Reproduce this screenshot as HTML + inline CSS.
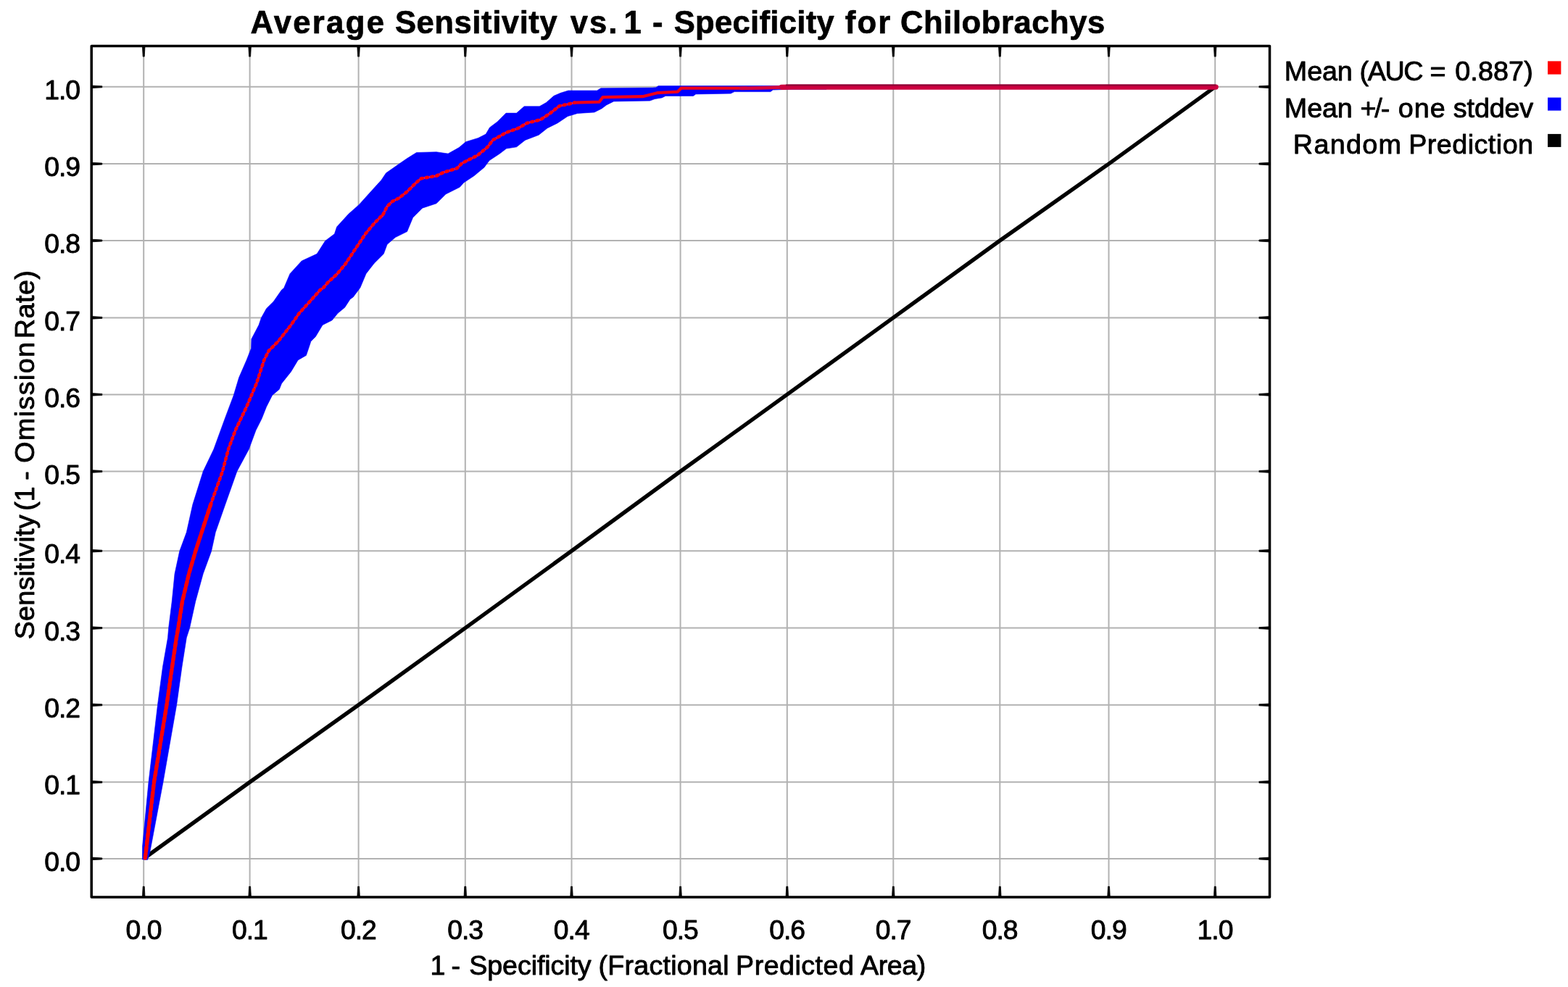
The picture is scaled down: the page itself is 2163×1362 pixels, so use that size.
<!DOCTYPE html>
<html lang="en"><head><meta charset="utf-8"><title>Average Sensitivity vs. 1 - Specificity for Chilobrachys</title>
<style>html,body{margin:0;padding:0;background:#fff;overflow:hidden}svg{display:block}text{font-family:"Liberation Sans",Arial,Helvetica,sans-serif;fill:#000;stroke:#000;stroke-linejoin:round;white-space:pre}</style>
</head><body>
<svg width="2163" height="1362" viewBox="0 0 2163 1362">
<rect x="0" y="0" width="2163" height="1362" fill="#fff"/>
<g>
<g stroke="#b2b2b2" stroke-width="2.0" fill="none">
<line x1="198.2" y1="63.5" x2="198.2" y2="1237.9"/>
<line x1="344.6" y1="63.5" x2="344.6" y2="1237.9"/>
<line x1="494.6" y1="63.5" x2="494.6" y2="1237.9"/>
<line x1="641.8" y1="63.5" x2="641.8" y2="1237.9"/>
<line x1="788.5" y1="63.5" x2="788.5" y2="1237.9"/>
<line x1="938.6" y1="63.5" x2="938.6" y2="1237.9"/>
<line x1="1085.8" y1="63.5" x2="1085.8" y2="1237.9"/>
<line x1="1232.3" y1="63.5" x2="1232.3" y2="1237.9"/>
<line x1="1379.3" y1="63.5" x2="1379.3" y2="1237.9"/>
<line x1="1529.5" y1="63.5" x2="1529.5" y2="1237.9"/>
<line x1="1676.2" y1="63.5" x2="1676.2" y2="1237.9"/>
<line x1="126.2" y1="1184.9" x2="1751.5" y2="1184.9"/>
<line x1="126.2" y1="1079.3" x2="1751.5" y2="1079.3"/>
<line x1="126.2" y1="972.8" x2="1751.5" y2="972.8"/>
<line x1="126.2" y1="866.6" x2="1751.5" y2="866.6"/>
<line x1="126.2" y1="760.2" x2="1751.5" y2="760.2"/>
<line x1="126.2" y1="650.5" x2="1751.5" y2="650.5"/>
<line x1="126.2" y1="544.4" x2="1751.5" y2="544.4"/>
<line x1="126.2" y1="438.4" x2="1751.5" y2="438.4"/>
<line x1="126.2" y1="332.0" x2="1751.5" y2="332.0"/>
<line x1="126.2" y1="226.1" x2="1751.5" y2="226.1"/>
<line x1="126.2" y1="119.8" x2="1751.5" y2="119.8"/>
</g>
<polyline points="201.2,1182.7 344.6,1079.3 494.6,972.8 641.8,866.6 788.5,760.2 938.6,650.5 1085.8,544.4 1232.3,438.4 1379.3,332.0 1529.5,226.1 1675.2,120.6" fill="none" stroke="#000" stroke-width="5.4" stroke-linecap="round" stroke-linejoin="round"/>
<polygon points="196.4,1186.0 196.5,1168.0 205.0,1079.3 217.5,972.4 224.5,920.0 231.5,880.0 232.6,866.8 237.2,829.9 241.0,791.8 247.7,760.6 257.3,734.5 265.8,696.3 280.2,650.5 294.8,620.0 310.2,577.7 322.3,545.4 329.6,521.1 340.1,496.9 346.5,480.8 346.9,467.8 357.0,448.5 360.3,438.8 367.5,425.8 377.2,416.2 388.5,400.0 391.6,397.5 400.0,377.7 416.2,360.0 437.2,350.3 448.5,332.5 461.4,322.8 464.6,313.1 480.8,295.3 495.3,282.4 509.9,266.2 526.0,248.5 532.5,238.8 548.6,227.5 561.6,218.6 574.5,210.5 602.0,209.7 618.1,212.1 633.2,203.6 642.5,195.7 659.6,190.4 670.2,185.1 675.5,175.9 686.1,168.0 698.0,156.1 712.5,156.1 723.1,146.8 744.2,146.8 753.5,141.5 764.0,132.3 773.3,128.3 783.9,125.0 823.5,125.0 828.8,121.7 900.0,121.1 904.8,120.7 908.2,118.6 1140.0,118.3 1140.0,123.2 1087.9,123.2 1066.3,124.1 1062.9,126.6 1013.0,126.6 1008.0,129.1 959.8,129.9 956.4,132.4 918.1,132.4 913.1,134.9 903.2,136.6 896.5,139.1 846.6,139.9 836.6,144.9 829.9,149.9 819.9,154.9 796.6,156.5 783.1,160.5 769.0,169.9 754.9,176.9 743.2,186.3 724.4,193.4 712.6,202.8 698.5,205.1 689.1,212.2 675.0,221.6 668.0,231.0 653.9,242.7 639.8,252.1 634.3,258.2 614.9,267.9 602.0,280.8 582.6,287.2 569.6,300.2 561.6,319.6 545.4,327.6 534.1,337.3 529.3,350.3 516.3,363.2 505.0,377.7 496.9,397.1 487.2,410.0 483.0,412.9 475.7,424.2 466.0,432.3 458.0,442.0 445.0,448.5 435.4,464.6 428.9,471.1 425.7,480.8 422.4,490.4 411.1,496.9 401.4,513.1 388.5,529.2 385.3,537.3 375.6,545.4 367.5,561.5 361.1,577.7 353.0,593.8 343.3,620.0 326.9,650.5 310.7,696.3 297.3,734.5 291.6,760.6 280.2,791.8 269.7,829.9 261.6,866.8 257.3,880.0 251.0,920.0 243.7,972.4 225.0,1079.3 206.6,1177.0 203.5,1186.5" fill="#0000ff" stroke="#0000ff" stroke-width="0.6" stroke-linejoin="round"/>
<polyline points="290.6,696.3 306.9,650.5 315.0,620.0 324.7,593.8 340.1,561.5 353.8,529.2 364.3,496.9 370.8,484.0 383.7,471.1 401.4,448.5 412.7,432.3 427.3,416.2 441.8,400.0 445.7,397.5 452.7,389.3 464.5,378.7 476.2,364.6 485.6,350.5 495.0,336.4 504.4,322.3 516.2,308.2 525.6,298.8 527.0,298.8 534.0,285.0 541.1,278.0 550.5,273.3 562.2,263.9 574.0,252.1 581.0,246.3 602.2,242.7 611.6,238.0 630.4,232.2 637.4,225.1 658.6,214.5 672.7,202.8 679.7,193.4 698.5,182.8 715.0,176.9 726.7,169.9 745.5,165.2 759.6,155.8 771.4,146.4 792.5,141.7" fill="none" stroke="#b414c8" stroke-width="3.0" stroke-linejoin="round" stroke-linecap="round"/>
<polyline points="290.6,696.3 306.9,650.5 315.0,620.0 324.7,593.8 340.1,561.5 353.8,529.2 364.3,496.9 370.8,484.0 383.7,471.1 401.4,448.5 412.7,432.3 427.3,416.2 441.8,400.0 445.7,397.5 452.7,389.3 464.5,378.7 476.2,364.6 485.6,350.5 495.0,336.4 504.4,322.3 516.2,308.2 525.6,298.8 527.0,298.8 534.0,285.0 541.1,278.0 550.5,273.3 562.2,263.9 574.0,252.1 581.0,246.3 602.2,242.7 611.6,238.0 630.4,232.2 637.4,225.1 658.6,214.5 672.7,202.8 679.7,193.4 698.5,182.8 715.0,176.9 726.7,169.9 745.5,165.2 759.6,155.8 771.4,146.4 792.5,141.7" fill="none" stroke="#ff0000" stroke-width="4.6" stroke-linejoin="round" stroke-linecap="round" stroke-dasharray="2.2 5.1"/>
<polyline points="792.5,141.7 826.6,140.7 831.6,134.1 886.5,133.2 906.5,128.2 934.8,126.6 939.8,121.6 1029.7,121.6" fill="none" stroke="#f00018" stroke-width="4.2" stroke-linejoin="round" stroke-linecap="round"/>
<polyline points="200.3,1184.0 212.5,1079.3 230.0,972.4 237.5,920.0 243.4,880.0 245.8,866.8 251.5,829.9 260.6,791.8 269.7,760.6 278.2,734.5 290.6,696.3" fill="none" stroke="#e00a40" stroke-width="4.4" stroke-linejoin="round" stroke-linecap="round"/>
<polyline points="200.3,1184.0 212.5,1079.3 230.0,972.4 237.5,920.0 243.4,880.0 245.8,866.8 251.5,829.9 260.6,791.8 269.7,760.6 278.2,734.5 290.6,696.3" fill="none" stroke="#ff0000" stroke-width="5.4" stroke-linejoin="round" stroke-linecap="round" stroke-dasharray="6 3.5"/>
<polyline points="1022,121.8 1050,121.4 1088,120.1 1677.2,120.1" fill="none" stroke="#d8003c" stroke-width="4.8" stroke-linejoin="round" stroke-linecap="round"/>
<polyline points="1078,120.3 1092,120.1 1677.2,120.1" fill="none" stroke="#cc0040" stroke-width="7.2" stroke-linejoin="round" stroke-linecap="round"/>
<polyline points="1084,117.5 1677.2,117.4" fill="none" stroke="#7a0032" stroke-width="2.0" opacity="0.85"/>
<rect x="126.2" y="63.5" width="1625.3" height="1174.4" fill="none" stroke="#000" stroke-width="3.5" stroke-linejoin="round"/>
<g fill="#000" stroke="#000" stroke-width="0.8" stroke-linejoin="round">
<polygon points="196.4,63.5 197.2,78.1 199.2,78.1 200.0,63.5"/>
<polygon points="200.0,1237.9 199.2,1223.3 197.2,1223.3 196.4,1237.9"/>
<polygon points="342.8,63.5 343.6,78.1 345.6,78.1 346.4,63.5"/>
<polygon points="346.4,1237.9 345.6,1223.3 343.6,1223.3 342.8,1237.9"/>
<polygon points="492.8,63.5 493.6,78.1 495.6,78.1 496.4,63.5"/>
<polygon points="496.4,1237.9 495.6,1223.3 493.6,1223.3 492.8,1237.9"/>
<polygon points="640.0,63.5 640.8,78.1 642.8,78.1 643.6,63.5"/>
<polygon points="643.6,1237.9 642.8,1223.3 640.8,1223.3 640.0,1237.9"/>
<polygon points="786.7,63.5 787.5,78.1 789.5,78.1 790.3,63.5"/>
<polygon points="790.3,1237.9 789.5,1223.3 787.5,1223.3 786.7,1237.9"/>
<polygon points="936.8,63.5 937.6,78.1 939.6,78.1 940.4,63.5"/>
<polygon points="940.4,1237.9 939.6,1223.3 937.6,1223.3 936.8,1237.9"/>
<polygon points="1084.0,63.5 1084.8,78.1 1086.8,78.1 1087.6,63.5"/>
<polygon points="1087.6,1237.9 1086.8,1223.3 1084.8,1223.3 1084.0,1237.9"/>
<polygon points="1230.5,63.5 1231.3,78.1 1233.3,78.1 1234.1,63.5"/>
<polygon points="1234.1,1237.9 1233.3,1223.3 1231.3,1223.3 1230.5,1237.9"/>
<polygon points="1377.5,63.5 1378.3,78.1 1380.3,78.1 1381.1,63.5"/>
<polygon points="1381.1,1237.9 1380.3,1223.3 1378.3,1223.3 1377.5,1237.9"/>
<polygon points="1527.7,63.5 1528.5,78.1 1530.5,78.1 1531.3,63.5"/>
<polygon points="1531.3,1237.9 1530.5,1223.3 1528.5,1223.3 1527.7,1237.9"/>
<polygon points="1674.4,63.5 1675.2,78.1 1677.2,78.1 1678.0,63.5"/>
<polygon points="1678.0,1237.9 1677.2,1223.3 1675.2,1223.3 1674.4,1237.9"/>
<polygon points="126.2,1186.7 140.8,1185.9 140.8,1183.9 126.2,1183.1"/>
<polygon points="1751.5,1183.1 1736.9,1183.9 1736.9,1185.9 1751.5,1186.7"/>
<polygon points="126.2,1081.1 140.8,1080.3 140.8,1078.3 126.2,1077.5"/>
<polygon points="1751.5,1077.5 1736.9,1078.3 1736.9,1080.3 1751.5,1081.1"/>
<polygon points="126.2,974.6 140.8,973.8 140.8,971.8 126.2,971.0"/>
<polygon points="1751.5,971.0 1736.9,971.8 1736.9,973.8 1751.5,974.6"/>
<polygon points="126.2,868.4 140.8,867.6 140.8,865.6 126.2,864.8"/>
<polygon points="1751.5,864.8 1736.9,865.6 1736.9,867.6 1751.5,868.4"/>
<polygon points="126.2,762.0 140.8,761.2 140.8,759.2 126.2,758.4"/>
<polygon points="1751.5,758.4 1736.9,759.2 1736.9,761.2 1751.5,762.0"/>
<polygon points="126.2,652.3 140.8,651.5 140.8,649.5 126.2,648.7"/>
<polygon points="1751.5,648.7 1736.9,649.5 1736.9,651.5 1751.5,652.3"/>
<polygon points="126.2,546.2 140.8,545.4 140.8,543.4 126.2,542.6"/>
<polygon points="1751.5,542.6 1736.9,543.4 1736.9,545.4 1751.5,546.2"/>
<polygon points="126.2,440.2 140.8,439.4 140.8,437.4 126.2,436.6"/>
<polygon points="1751.5,436.6 1736.9,437.4 1736.9,439.4 1751.5,440.2"/>
<polygon points="126.2,333.8 140.8,333.0 140.8,331.0 126.2,330.2"/>
<polygon points="1751.5,330.2 1736.9,331.0 1736.9,333.0 1751.5,333.8"/>
<polygon points="126.2,227.9 140.8,227.1 140.8,225.1 126.2,224.3"/>
<polygon points="1751.5,224.3 1736.9,225.1 1736.9,227.1 1751.5,227.9"/>
<polygon points="126.2,121.6 140.8,120.8 140.8,118.8 126.2,118.0"/>
<polygon points="1751.5,118.0 1736.9,118.8 1736.9,120.8 1751.5,121.6"/>
</g>
<text y="46" font-size="43.6" font-weight="bold" stroke-width="0.7"><tspan x="345.44" letter-spacing="2.340">Average</tspan> <tspan x="544.89" letter-spacing="0.575">Sensitivity</tspan> <tspan x="786.71" letter-spacing="1.969">vs.</tspan> <tspan x="860.60" letter-spacing="0.000">1</tspan> <tspan x="899.96" letter-spacing="0.000">-</tspan> <tspan x="929.69" letter-spacing="0.295">Specificity</tspan> <tspan x="1165.77" letter-spacing="2.210">for</tspan> <tspan x="1242.06" letter-spacing="0.550">Chilobrachys</tspan></text>
<g font-size="37.3" stroke-width="0.9">
<text x="198.0" y="1296" text-anchor="middle" letter-spacing="-1.0">0.0</text>
<text x="344.4" y="1296" text-anchor="middle" letter-spacing="-1.0">0.1</text>
<text x="494.4" y="1296" text-anchor="middle" letter-spacing="-1.0">0.2</text>
<text x="641.6" y="1296" text-anchor="middle" letter-spacing="-1.0">0.3</text>
<text x="788.3" y="1296" text-anchor="middle" letter-spacing="-1.0">0.4</text>
<text x="938.4" y="1296" text-anchor="middle" letter-spacing="-1.0">0.5</text>
<text x="1085.6" y="1296" text-anchor="middle" letter-spacing="-1.0">0.6</text>
<text x="1232.1" y="1296" text-anchor="middle" letter-spacing="-1.0">0.7</text>
<text x="1379.1" y="1296" text-anchor="middle" letter-spacing="-1.0">0.8</text>
<text x="1529.3" y="1296" text-anchor="middle" letter-spacing="-1.0">0.9</text>
<text x="1676.0" y="1296" text-anchor="middle" letter-spacing="-1.0">1.0</text>
<text x="110.0" y="1202.0" text-anchor="end" letter-spacing="-1.0">0.0</text>
<text x="110.0" y="1096.4" text-anchor="end" letter-spacing="-1.0">0.1</text>
<text x="110.0" y="989.9" text-anchor="end" letter-spacing="-1.0">0.2</text>
<text x="110.0" y="883.7" text-anchor="end" letter-spacing="-1.0">0.3</text>
<text x="110.0" y="777.3" text-anchor="end" letter-spacing="-1.0">0.4</text>
<text x="110.0" y="667.6" text-anchor="end" letter-spacing="-1.0">0.5</text>
<text x="110.0" y="561.5" text-anchor="end" letter-spacing="-1.0">0.6</text>
<text x="110.0" y="455.5" text-anchor="end" letter-spacing="-1.0">0.7</text>
<text x="110.0" y="349.1" text-anchor="end" letter-spacing="-1.0">0.8</text>
<text x="110.0" y="243.2" text-anchor="end" letter-spacing="-1.0">0.9</text>
<text x="110.0" y="136.9" text-anchor="end" letter-spacing="-1.0">1.0</text>
</g>
<text y="1345" font-size="37.6" stroke-width="0.9"><tspan x="593.40" letter-spacing="0.000">1</tspan> <tspan x="622.47" letter-spacing="0.000">-</tspan> <tspan x="647.35" letter-spacing="-0.092">Specificity</tspan> <tspan x="825.62" letter-spacing="0.249">(Fractional</tspan> <tspan x="1015.07" letter-spacing="0.502">Predicted</tspan> <tspan x="1187.07" letter-spacing="-0.422">Area)</tspan></text>
<text transform="translate(46.6,880.5) rotate(-90)" y="0" font-size="37.6" stroke-width="0.9"><tspan x="-1.75" letter-spacing="0.258">Sensitivity</tspan> <tspan x="175.70" letter-spacing="0.000">(1</tspan> <tspan x="217.67" letter-spacing="0.000">-</tspan> <tspan x="241.85" letter-spacing="1.438">Omission</tspan> <tspan x="413.37" letter-spacing="0.530">Rate)</tspan></text>
<g font-size="37.7" stroke-width="0.9">
<text y="111.3"><tspan x="1771.86" letter-spacing="-0.107">Mean</tspan> <tspan x="1875.41" letter-spacing="-1.315">(AUC</tspan> <tspan x="1972.41" letter-spacing="0.000">=</tspan> <tspan x="2007.19" letter-spacing="0.131">0.887)</tspan></text>
<text y="161.6"><tspan x="1771.86" letter-spacing="-0.107">Mean</tspan> <tspan x="1876.41" letter-spacing="-2.085">+/-</tspan> <tspan x="1928.87" letter-spacing="0.967">one</tspan> <tspan x="2004.87" letter-spacing="-0.141">stddev</tspan></text>
<text y="211.9"><tspan x="1783.86" letter-spacing="1.330">Random</tspan> <tspan x="1943.16" letter-spacing="0.477">Prediction</tspan></text>
</g>
<rect x="2135" y="84.4" width="18.4" height="18.2" fill="#ff0000"/>
<rect x="2135" y="134.6" width="18.4" height="18.0" fill="#0000ff"/>
<rect x="2135" y="184.9" width="18.4" height="18.0" fill="#000000"/>
</g>
</svg>
</body></html>
